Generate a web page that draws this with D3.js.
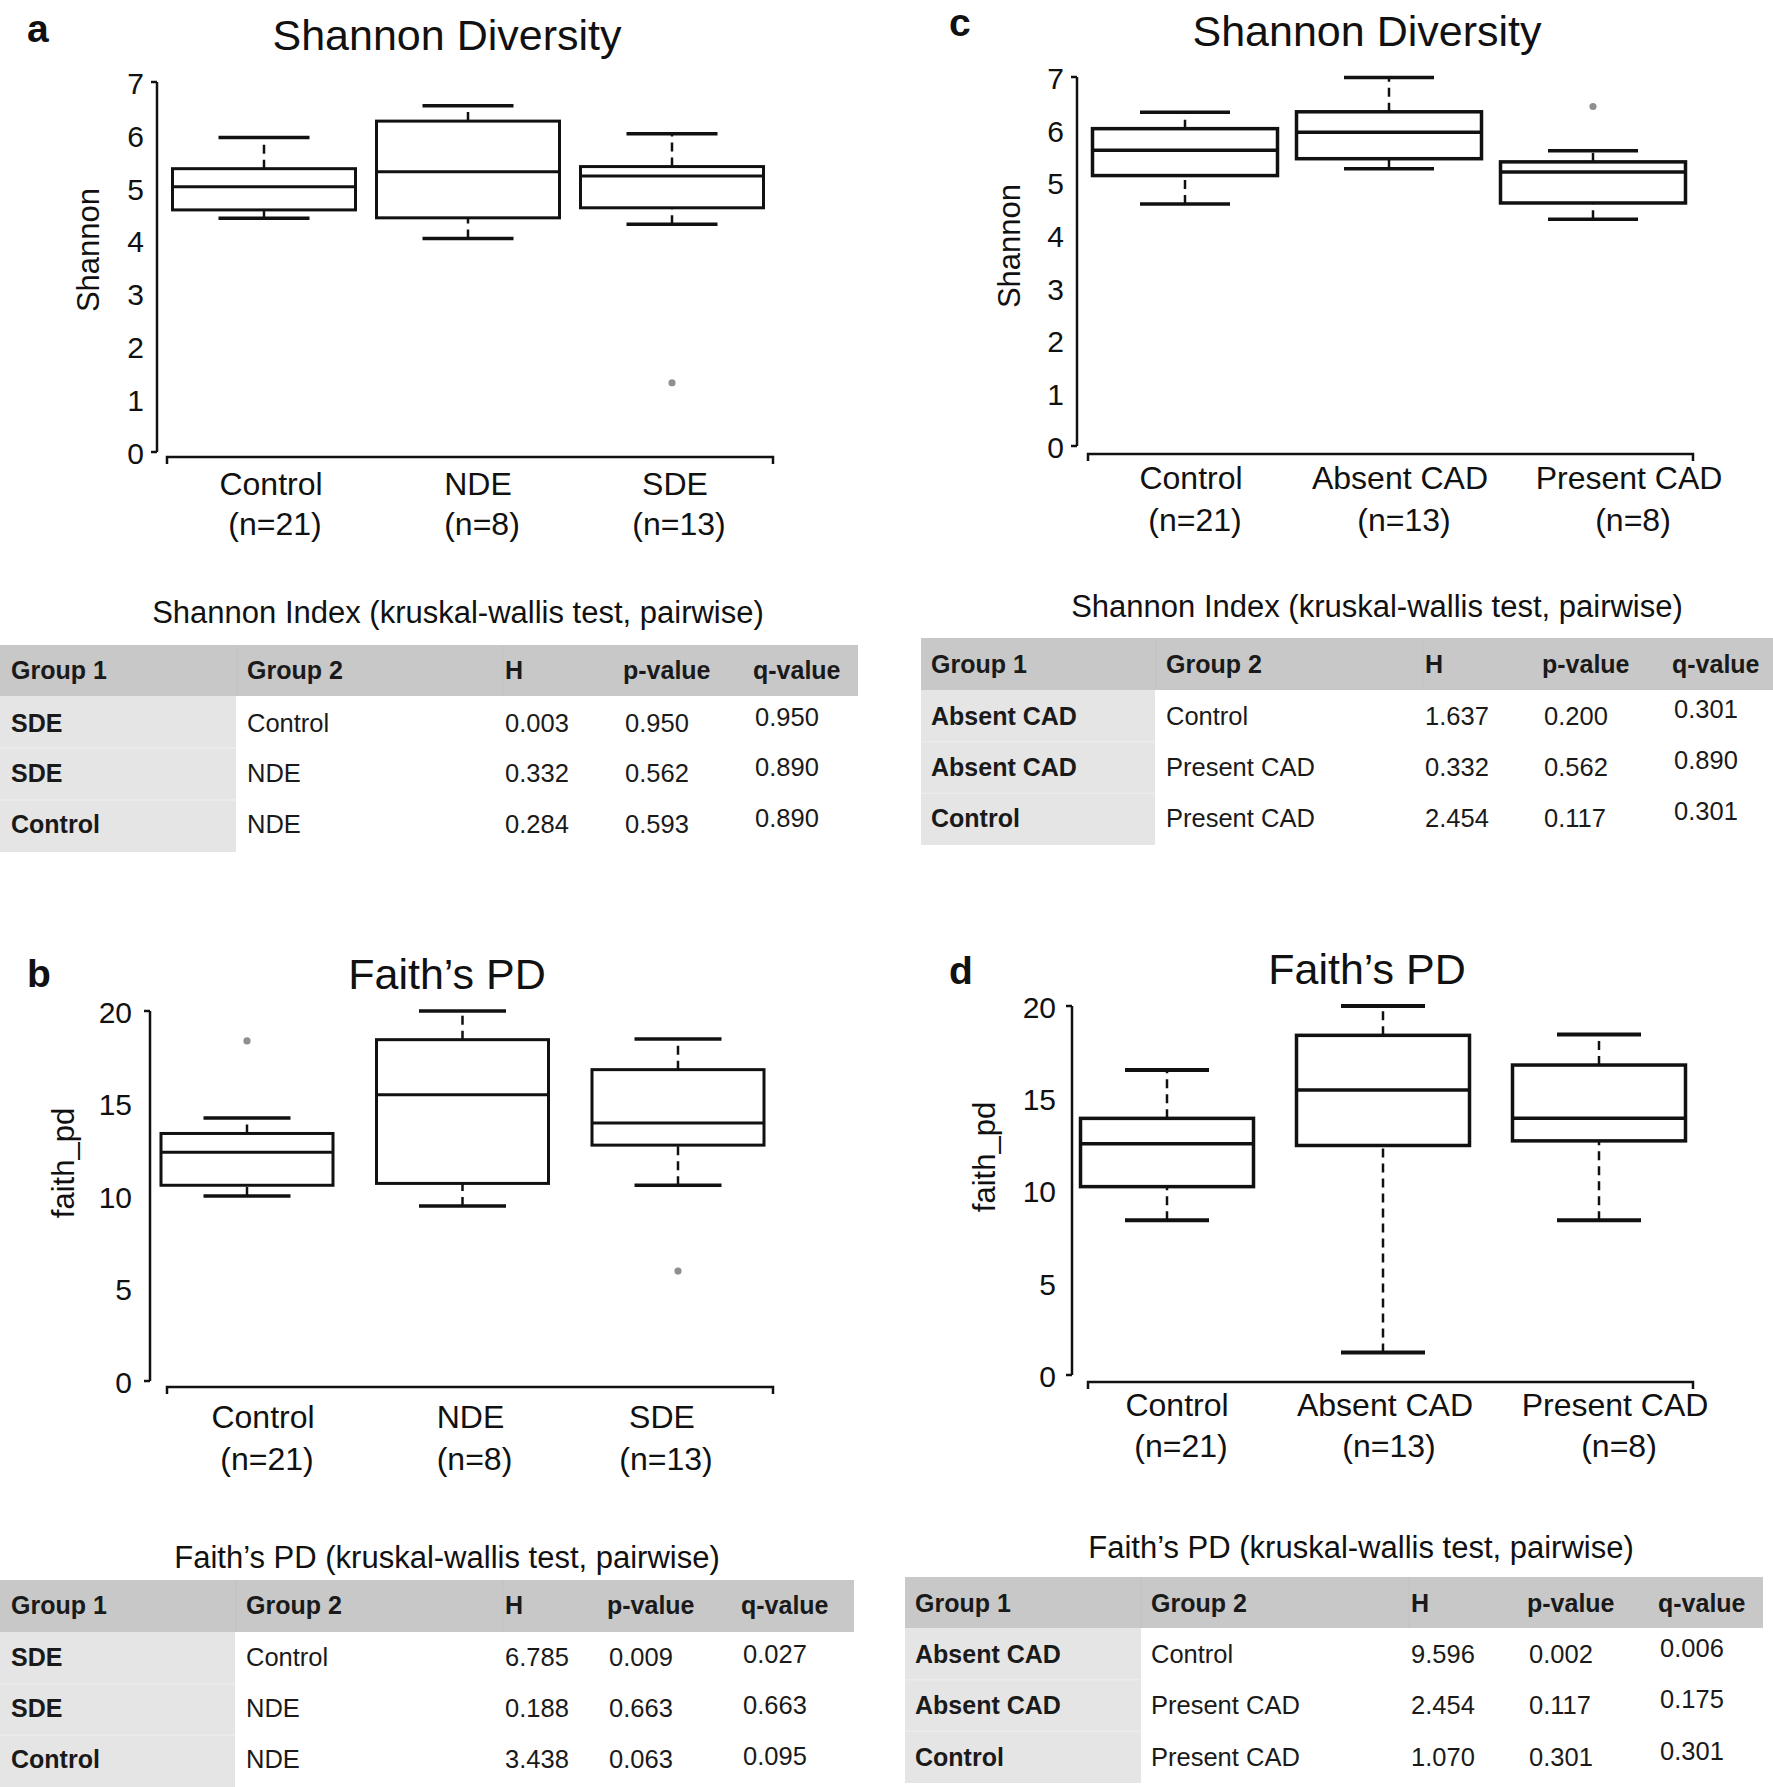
<!DOCTYPE html>
<html><head><meta charset="utf-8">
<script src="https://cdn.jsdelivr.net/npm/d3@7"></script>
<style>
html,body{margin:0;padding:0;background:#fff;}
svg{display:block;font-family:"Liberation Sans",Arial,Helvetica,sans-serif;}
</style></head><body>
<svg id="chart" width="1773" height="1787"></svg>
<script>
// ---------------- DATA ----------------
const groupsAB = ["Control", "NDE", "SDE"];
const groupsCD = ["Control", "Absent CAD", "Present CAD"];
const countsAB = ["(n=21)", "(n=8)", "(n=13)"];
const countsCD = ["(n=21)", "(n=13)", "(n=8)"];
const shannonTicks = [0, 1, 2, 3, 4, 5, 6, 7];
const faithTicks = [0, 5, 10, 15, 20];
// five-number summaries per group: [min, q1, median, q3, max]
const shannonA = [[4.42, 4.58, 5.02, 5.36, 5.95], [4.04, 4.43, 5.30, 6.26, 6.55], [4.31, 4.62, 5.22, 5.40, 6.02]];
const shannonAOutliers = [[2, 1.31]];
const faithB = [[10.0, 10.58, 12.36, 13.38, 14.22], [9.46, 10.68, 15.47, 18.45, 20.0], [10.58, 12.75, 13.95, 16.83, 18.49]];
const faithBOutliers = [[0, 18.38], [2, 5.94]];
const shannonC = [[4.59, 5.13, 5.61, 6.02, 6.33], [5.26, 5.45, 5.95, 6.34, 6.99], [4.30, 4.61, 5.20, 5.39, 5.60]];
const shannonCOutliers = [[2, 6.44]];
const faithD = [[8.39, 10.21, 12.54, 13.91, 16.53], [1.22, 12.44, 15.45, 18.41, 20.0], [8.39, 12.69, 13.91, 16.80, 18.45]];
const faithDOutliers = [];
const tableHeader = ["Group 1", "Group 2", "H", "p-value", "q-value"];
const tableARows = [["SDE", "Control", "0.003", "0.950", "0.950"], ["SDE", "NDE", "0.332", "0.562", "0.890"], ["Control", "NDE", "0.284", "0.593", "0.890"]];
const tableBRows = [["SDE", "Control", "6.785", "0.009", "0.027"], ["SDE", "NDE", "0.188", "0.663", "0.663"], ["Control", "NDE", "3.438", "0.063", "0.095"]];
const tableCRows = [["Absent CAD", "Control", "1.637", "0.200", "0.301"], ["Absent CAD", "Present CAD", "0.332", "0.562", "0.890"], ["Control", "Present CAD", "2.454", "0.117", "0.301"]];
const tableDRows = [["Absent CAD", "Control", "9.596", "0.002", "0.006"], ["Absent CAD", "Present CAD", "2.454", "0.117", "0.175"], ["Control", "Present CAD", "1.070", "0.301", "0.301"]];

// ---------------- DRAWING ----------------
const svg = d3.select("#chart");
const FONT = '"Liberation Sans", Arial, Helvetica, sans-serif';
const INK = "#111";

function boxPanel(o) {
  const g = svg.append("g");
  const y = d3.scaleLinear().domain([0, o.ymax]).range([o.yBot, o.yTop]);
  const x = d3.scalePoint().domain(o.groups).range(o.xr);

  // panel letter + title
  g.append("text").attr("x", o.letter[0]).attr("y", o.letter[1]).text(o.letterText)
    .attr("font-size", 39).attr("font-weight", "bold").attr("fill", INK);
  g.append("text").attr("x", o.title[0]).attr("y", o.title[1]).text(o.titleText)
    .attr("text-anchor", "middle").attr("font-size", 43).attr("fill", INK);

  // y axis
  const ax = g.append("g").attr("transform", `translate(${o.axX},0)`)
    .call(d3.axisLeft(y).tickValues(o.ticks).tickFormat(d3.format("d")).tickSize(0).tickPadding(o.tickPad));
  ax.attr("font-size", null).attr("font-family", null);
  ax.select(".domain").remove();
  ax.selectAll("text").attr("font-size", 30).attr("fill", INK).attr("font-family", FONT)
    .attr("dy", "0.38em");
  g.append("line").attr("x1", o.axX).attr("x2", o.axX).attr("y1", y(o.ymax)).attr("y2", y(0))
    .attr("stroke", INK).attr("stroke-width", 2.5);
  [o.ymax, 0].forEach(v => g.append("line").attr("x1", o.axX - 6).attr("x2", o.axX)
    .attr("y1", y(v)).attr("y2", y(v)).attr("stroke", INK).attr("stroke-width", 2.5));
  g.append("text").attr("transform", `translate(${o.ytitle[0]},${o.ytitle[1]}) rotate(-90)`)
    .attr("text-anchor", "middle").attr("dominant-baseline", "central")
    .attr("font-size", 31).attr("fill", INK).text(o.ytitleText);

  // x axis bracket
  g.append("path")
    .attr("d", `M${o.xAxisX[0]},${o.xAxisY + 7}V${o.xAxisY}H${o.xAxisX[1]}V${o.xAxisY + 7}`)
    .attr("fill", "none").attr("stroke", INK).attr("stroke-width", 2.5);

  // boxes
  o.stats.forEach((s, i) => {
    const cx = x(o.groups[i]);
    const bg = g.append("g");
    [[s[0], s[1]], [s[3], s[4]]].forEach(([a, b]) => bg.append("line")
      .attr("x1", cx).attr("x2", cx).attr("y1", y(a)).attr("y2", y(b))
      .attr("stroke", INK).attr("stroke-width", 2.5).attr("stroke-dasharray", "9,6"));
    [s[0], s[4]].forEach(v => bg.append("line")
      .attr("x1", cx - o.capW / 2).attr("x2", cx + o.capW / 2).attr("y1", y(v)).attr("y2", y(v))
      .attr("stroke", INK).attr("stroke-width", o.capSW));
    bg.append("rect").attr("x", cx - o.boxW / 2).attr("width", o.boxW)
      .attr("y", y(s[3])).attr("height", y(s[1]) - y(s[3]))
      .attr("fill", "#fff").attr("stroke", INK).attr("stroke-width", o.boxSW);
    bg.append("line").attr("x1", cx - o.boxW / 2).attr("x2", cx + o.boxW / 2)
      .attr("y1", y(s[2])).attr("y2", y(s[2])).attr("stroke", INK).attr("stroke-width", o.boxSW);
  });
  o.outliers.forEach(([i, v]) => g.append("circle").attr("cx", x(o.groups[i])).attr("cy", y(v))
    .attr("r", 3.6).attr("fill", "#8f8f8f"));

  // category labels
  o.groups.forEach((grp, i) => {
    const cx = x(grp) + o.labDx[i];
    g.append("text").attr("x", cx).attr("y", o.labY[0]).attr("text-anchor", "middle")
      .attr("font-size", 32).attr("fill", INK).text(grp);
    g.append("text").attr("x", cx + 4).attr("y", o.labY[1]).attr("text-anchor", "middle")
      .attr("font-size", 32).attr("fill", INK).text(o.counts[i]);
  });
}

function statTable(o) {
  const g = svg.append("g");
  g.append("text").attr("x", o.title[0]).attr("y", o.title[1]).attr("text-anchor", "middle")
    .attr("font-size", 31).attr("fill", INK).text(o.titleText);
  const hh = o.headY[1] - o.headY[0];
  g.append("rect").attr("x", o.bandX[0]).attr("y", o.headY[0]).attr("width", o.bandX[1] - o.bandX[0])
    .attr("height", hh).attr("fill", "#c8c8c8");
  g.append("rect").attr("x", o.bandX[0]).attr("y", o.headY[1]).attr("width", o.col1W)
    .attr("height", o.bodyH).attr("fill", "#e5e5e5");
  // subtle separators
  [o.cols[1] - 10, o.cols[2] - 2].forEach(sx => g.append("line").attr("x1", sx).attr("x2", sx)
    .attr("y1", o.headY[0]).attr("y2", o.headY[1]).attr("stroke", "#c2c2c2").attr("stroke-width", 1));
  [1, 2].forEach(k => g.append("line").attr("x1", o.bandX[0]).attr("x2", o.bandX[0] + o.col1W)
    .attr("y1", o.headY[1] + k * o.bodyH / 3).attr("y2", o.headY[1] + k * o.bodyH / 3)
    .attr("stroke", "#ececec").attr("stroke-width", 1.5));
  tableHeader.forEach((h, j) => g.append("text").attr("x", o.cols[j]).attr("y", o.headBase)
    .attr("font-size", 25).attr("font-weight", "bold").attr("fill", "#1a1a1a").text(h));
  o.rows.forEach((r, i) => r.forEach((c, j) => g.append("text")
    .attr("x", o.cols[j] + (j >= 3 ? 2 : 0))
    .attr("y", o.rowBase[i] + (j === 4 ? o.qShift : 0))
    .attr("font-size", j === 0 ? 25 : 25.5).attr("font-weight", j === 0 ? "bold" : "normal")
    .attr("fill", "#1a1a1a").text(c)));
}

// panel a
boxPanel({
  letterText: "a", letter: [27, 42], titleText: "Shannon Diversity", title: [447, 50],
  groups: groupsAB, counts: countsAB, stats: shannonA, outliers: shannonAOutliers,
  ymax: 7, ticks: shannonTicks, yTop: 82, yBot: 452, axX: 157, tickPad: 13,
  xr: [264, 672], boxW: 183, capW: 91, boxSW: 3, capSW: 3.5,
  xAxisY: 457, xAxisX: [167, 773], labDx: [7, 10, 3], labY: [495, 535],
  ytitle: [88, 250], ytitleText: "Shannon"
});
// panel c
boxPanel({
  letterText: "c", letter: [949, 36], titleText: "Shannon Diversity", title: [1367, 46],
  groups: groupsCD, counts: countsCD, stats: shannonC, outliers: shannonCOutliers,
  ymax: 7, ticks: shannonTicks, yTop: 77, yBot: 446, axX: 1077, tickPad: 13,
  xr: [1185, 1593], boxW: 185, capW: 90, boxSW: 3.5, capSW: 3.5,
  xAxisY: 454, xAxisX: [1088, 1693], labDx: [6, 11, 36], labY: [489, 531],
  ytitle: [1009, 246], ytitleText: "Shannon"
});
// panel b
boxPanel({
  letterText: "b", letter: [27, 987], titleText: "Faith\u2019s PD", title: [447, 989],
  groups: groupsAB, counts: countsAB, stats: faithB, outliers: faithBOutliers,
  ymax: 20, ticks: faithTicks, yTop: 1011, yBot: 1381, axX: 150, tickPad: 18,
  xr: [247, 678], boxW: 172, capW: 87, boxSW: 3, capSW: 3.5,
  xAxisY: 1387, xAxisX: [167, 773], labDx: [16, 8, -16], labY: [1428, 1470],
  ytitle: [63, 1163], ytitleText: "faith_pd"
});
// panel d
boxPanel({
  letterText: "d", letter: [949, 984], titleText: "Faith\u2019s PD", title: [1367, 984],
  groups: groupsCD, counts: countsCD, stats: faithD, outliers: faithDOutliers,
  ymax: 20, ticks: faithTicks, yTop: 1006, yBot: 1375, axX: 1072, tickPad: 16,
  xr: [1167, 1599], boxW: 173, capW: 84, boxSW: 3.5, capSW: 4,
  xAxisY: 1382, xAxisX: [1088, 1693], labDx: [10, 2, 16], labY: [1416, 1457],
  ytitle: [984, 1157], ytitleText: "faith_pd"
});

// tables
statTable({
  titleText: "Shannon Index (kruskal-wallis test, pairwise)", title: [458, 623],
  bandX: [0, 858], headY: [645, 696], col1W: 236, bodyH: 156,
  cols: [11, 247, 505, 623, 753], headBase: 679, rowBase: [732, 782, 833], qShift: -6, rows: tableARows
});
statTable({
  titleText: "Shannon Index (kruskal-wallis test, pairwise)", title: [1377, 617],
  bandX: [921, 1773], headY: [638, 690], col1W: 234, bodyH: 155,
  cols: [931, 1166, 1425, 1542, 1672], headBase: 673, rowBase: [725, 776, 827], qShift: -7, rows: tableCRows
});
statTable({
  titleText: "Faith\u2019s PD (kruskal-wallis test, pairwise)", title: [447, 1568],
  bandX: [0, 854], headY: [1580, 1632], col1W: 235, bodyH: 155,
  cols: [11, 246, 505, 607, 741], headBase: 1614, rowBase: [1666, 1717, 1768], qShift: -3, rows: tableBRows
});
statTable({
  titleText: "Faith\u2019s PD (kruskal-wallis test, pairwise)", title: [1361, 1558],
  bandX: [905, 1763], headY: [1577, 1628], col1W: 236, bodyH: 155,
  cols: [915, 1151, 1411, 1527, 1658], headBase: 1612, rowBase: [1663, 1714, 1766], qShift: -6, rows: tableDRows
});
</script>
</body></html>
